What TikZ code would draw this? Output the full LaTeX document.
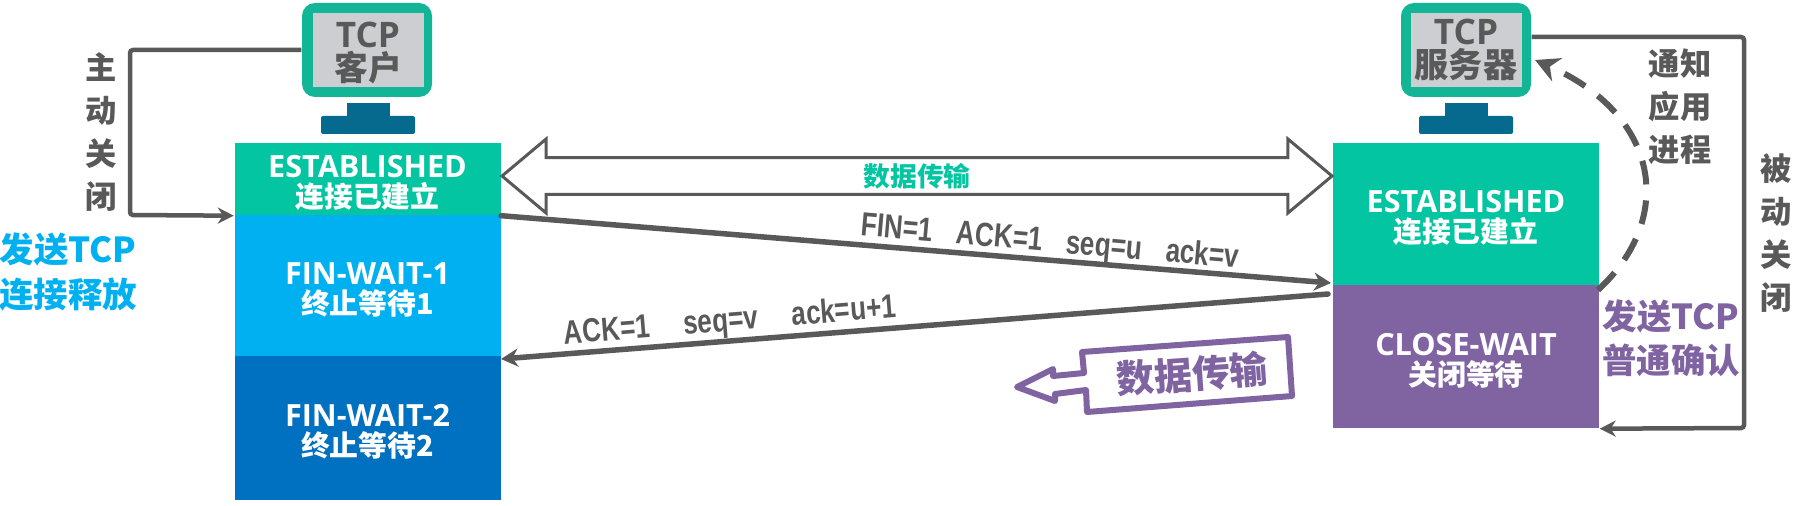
\documentclass[tikz,border=0pt]{standalone}
\usepackage{xcolor}
\usepackage{fontspec}
\setmainfont{Open Sans}
\newfontfamily\cjk{Noto Sans CJK SC}
\newfontfamily\arial[FakeStretch=0.78,BoldFeatures={FakeStretch=0.78}]{Liberation Sans}
\usetikzlibrary{arrows.meta,shapes.arrows}
\definecolor{ClosedGreen}{HTML}{03C5A2}
\definecolor{FrameGreen}{HTML}{12B595}
\definecolor{ScreenGray}{HTML}{CDCED2}
\definecolor{StandTeal}{HTML}{066A8F}
\definecolor{WaitBlue}{HTML}{00B0F0}
\definecolor{DeepBlue}{HTML}{0070C0}
\definecolor{WaitPurple}{HTML}{8064A2}
\definecolor{WireGray}{HTML}{595959}
\newcommand{\statetext}[2]{\rule{0pt}{3mm}#1\\{\fontsize{8.2}{8.6}\selectfont\cjk #2}}
\tikzset{
  statebox/.style={rectangle,inner sep=0pt,minimum width=26.6mm,text=white,align=center,
    font=\fontsize{8.7}{8.6}\selectfont\bfseries},
  frame/.style={rectangle,rounded corners=1.3mm,fill=FrameGreen,inner sep=0pt,minimum width=13mm,minimum height=9.4mm},
  screen/.style={rectangle,fill=ScreenGray,inner sep=0pt,minimum width=11.1mm,minimum height=7.4mm,text=WireGray,align=center,
    font=\fontsize{10}{8}\selectfont\bfseries},
  stand/.style={rectangle,fill=StandTeal,inner sep=0pt,minimum width=4.3mm,minimum height=1.4mm},
  base/.style={rectangle,rounded corners=0.2mm,fill=StandTeal,inner sep=0pt,minimum width=9.4mm,minimum height=1.8mm},
  wire/.style={draw=WireGray,line width=0.45mm,-{Stealth[length=1.6mm,width=1.6mm]}},
  msg/.style={draw=WireGray,line width=0.55mm,line cap=round,-{Stealth[length=1.7mm,width=1.8mm]}},
  sidelabel/.style={inner sep=0pt,text=WireGray,align=center,font=\fontsize{8.9}{12.2}\selectfont\cjk\bfseries},
  notelabel/.style={inner sep=0pt,align=center,font=\fontsize{9.8}{12.6}\selectfont\cjk\bfseries},
  seglabel/.style={inner sep=0pt,text=WireGray,font=\fontsize{9.5}{10}\selectfont\arial\bfseries},
}
\begin{document}
\begin{tikzpicture}[x=0.1mm,y=-0.1mm]
  \useasboundingbox (0,0) rectangle (1798,505);
  % client side
  \node[frame] (clientFrame) at (367,50) {};
  \node[screen] (clientScreen) at (368,50) {\rule{0pt}{3.2mm}TCP\\{\fontsize{9.6}{8}\selectfont\cjk 客户}};
  \node[stand] (clientStand) at (368,110) {};
  \node[base] (clientBase) at (368,125) {};
  \node[statebox,fill=ClosedGreen,minimum height=7.2mm] (estL) at (367.5,179) {\statetext{ESTABLISHED}{连接已建立}};
  \node[statebox,fill=WaitBlue,minimum height=14.1mm] (finA) at (367.5,285.5) {\statetext{FIN-WAIT-1}{终止等待1}};
  \node[statebox,fill=DeepBlue,minimum height=14.4mm] (finB) at (367.5,428) {\statetext{FIN-WAIT-2}{终止等待2}};
  % server side
  \node[frame] (serverFrame) at (1466,50) {};
  \node[screen] (serverScreen) at (1466,50) {\rule{0pt}{2.6mm}TCP\\{\fontsize{9.7}{8}\selectfont\cjk 服务器}};
  \node[stand] (serverStand) at (1466,110) {};
  \node[base] (serverBase) at (1466,125) {};
  \node[statebox,fill=ClosedGreen,minimum height=14.2mm] (estR) at (1466,214) {\statetext{ESTABLISHED}{连接已建立}};
  \node[statebox,fill=WaitPurple,minimum height=14.3mm] (closeW) at (1466,356.5) {\statetext{CLOSE-WAIT}{关闭等待}};
  % data transfer
  \node[double arrow,draw=WireGray,fill=white,line width=0.3mm,inner sep=0pt,
    minimum height=83mm,minimum width=7.4mm,double arrow head extend=1.45mm,double arrow tip angle=80,
    text=ClosedGreen,font=\fontsize{7.6}{9}\selectfont\cjk\bfseries] (dataBoth) at (917,176) {数据传输};
  % closing
  \coordinate (closeA) at (130,50);
  \coordinate (closeB) at (130,215);
  \coordinate (passA) at (1744,37);
  \coordinate (passB) at (1744,428);
  \draw[wire,rounded corners=0.3mm] (clientFrame.west|-closeA) -- (closeA) -- (closeB) -- (estL.south west);
  \draw[wire,rounded corners=0.3mm] (serverFrame.east|-passA) -- (passA) -- (passB) -- (closeW.south east);
  \coordinate (finEnd) at (1331,283);
  \coordinate (ackStart) at (1328,294);
  \coordinate (ackEnd) at (501,359);
  \draw[msg] (estL.south east) -- (finEnd);
  \draw[msg] (ackStart) -- (ackEnd);
  \node[seglabel,rotate=-5] (finText) at (1050,243) {FIN=1\hspace{2.4mm}ACK=1\hspace{2.4mm}seq=u\hspace{2.4mm}ack=v};
  \node[seglabel,rotate=4.7] (ackText) at (730,322) {ACK=1\hspace{3.4mm}seq=v\hspace{3.4mm}ack=u+1};
  \draw[WireGray,line width=0.6mm,dash pattern=on 2.4mm off 1.6mm,-{Stealth[length=2.4mm,width=2.5mm]}]
    (1598,290) .. controls (1676,218) and (1660,115) .. (1535,60);
  % labels
  \node[sidelabel] (activeText) at (101,132) {主\\动\\关\\闭};
  \node[sidelabel] (notifyText) at (1680,107) {通知\\应用\\进程};
  \node[sidelabel] (passiveText) at (1776,233) {被\\动\\关\\闭};
  \node[notelabel,text=WaitBlue] (sendFin) at (68,272) {发送TCP\\连接释放};
  \node[notelabel,text=WaitPurple] (sendAck) at (1671,338) {发送TCP\\普通确认};
  % callout
  \draw[WaitPurple,line width=0.6mm,line join=round,fill=white] (1082,352) -- (1288,337) -- (1292,396) -- (1087,412)
    -- (1086,390) -- (1055,394) -- (1055,401) -- (1017,387) -- (1053,369) -- (1053,376) -- (1084,373) -- cycle;
  \node[inner sep=0pt,rotate=4,text=WaitPurple,font=\fontsize{10.8}{12}\selectfont\cjk\bfseries] (dataOne) at (1192,374) {数据传输};
\end{tikzpicture}
\end{document}
